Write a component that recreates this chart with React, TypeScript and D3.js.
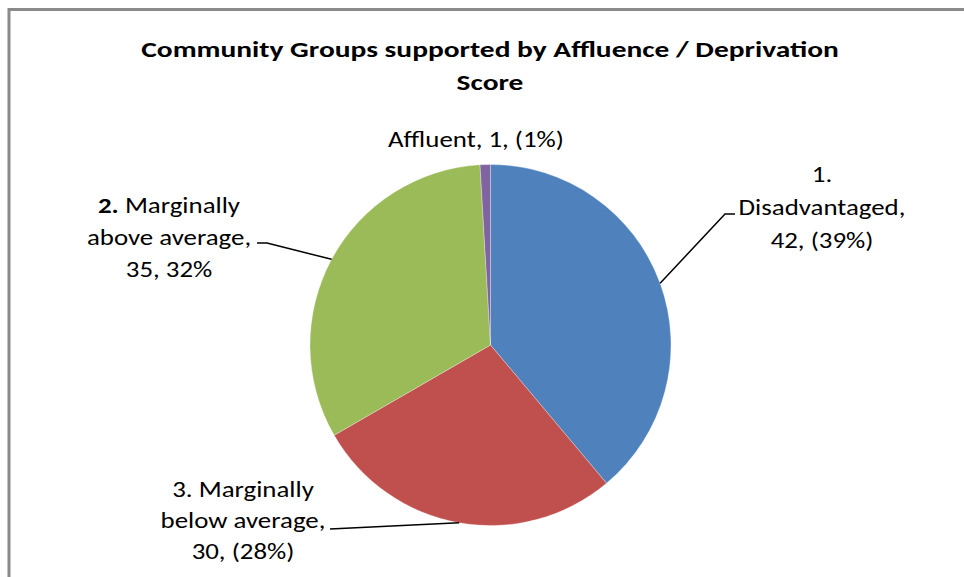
import React from "react";
import * as d3 from "d3";

const categories = ["1. Disadvantaged", "3. Marginally below average", "2. Marginally above average", "Affluent"];
const values = [42, 30, 35, 1];
const colors = ["#4F81BD", "#C0504D", "#9BBB59", "#8064A2"];
const labelLines: { text: string; bold?: string }[][] = [
  [{ text: "1." }, { text: "Disadvantaged," }, { text: "42, (39%)" }],
  [{ text: "3. Marginally" }, { text: "below average," }, { text: "30, (28%)" }],
  [{ text: " Marginally", bold: "2." }, { text: "above average," }, { text: "35, 32%" }],
  [{ text: "Affluent, 1, (1%)" }],
];
const titleLines = ["Community Groups supported by Affluence / Deprivation", "Score"];

const W = 964, H = 577;
const cx = 490.5, cy = 345, R = 180.5;
const FONT = "Carlito, Lato, 'Open Sans', sans-serif";
const LABEL_SIZE = 21.5, LABEL_SX = 1.25;
const TITLE_SIZE = 23, TITLE_SX = 1.28;

// label layout: anchor (center x, first baseline), line gap, leader elbow
const labelLayout = [
  { x: 822, y: 182, gap: 33, leader: [[735, 214], [725, 214]] },
  { x: 243, y: 497, gap: 31, leader: [[330, 529]] },
  { x: 169, y: 213, gap: 32, leader: [[257, 243], [267, 243]] },
  { x: 476, y: 147, gap: 0, leader: null as null | number[][] },
];

export default function App() {
  const pie = d3.pie<number>().sort(null).value((d) => d);
  const arcs = pie(values);
  const arc = d3.arc<d3.PieArcDatum<number>>().innerRadius(0).outerRadius(R);
  const lineGen = d3.line();

  return (
    <svg width={W} height={H} style={{ position: "absolute", left: 0, top: 0, background: "#fff" }} fontFamily={FONT}>
      <rect x={0} y={0} width={W} height={H} fill="#fff" />
      <rect x={9} y={9.5} width={W + 50} height={H + 50} fill="none" stroke="#8a8a8a" strokeWidth={3} />
      {titleLines.map((t, i) => (
        <text key={i} transform={`translate(490,${57 + i * 33}) scale(${TITLE_SX},1)`} textAnchor="middle" fontWeight="bold" fontSize={TITLE_SIZE} fill="#000">
          {t}
        </text>
      ))}
      <g transform={`translate(${cx},${cy})`}>
        {arcs.map((a, i) => (
          <path key={i} d={arc(a) || ""} fill={colors[i]} stroke="#fff" strokeWidth={0.3} />
        ))}
      </g>
      {arcs.map((a, i) => {
        const L = labelLayout[i];
        if (!L.leader) return null;
        const mid = (a.startAngle + a.endAngle) / 2;
        const px = cx + R * Math.sin(mid);
        const py = cy - R * Math.cos(mid);
        const pts = [...L.leader, [px, py]] as [number, number][];
        return <path key={"l" + i} d={lineGen(pts) || ""} fill="none" stroke="#000" strokeWidth={1.5} />;
      })}
      {labelLines.map((lines, i) => {
        const L = labelLayout[i];
        return (
          <g key={"t" + i}>
            {lines.map((ln, j) => (
              <text key={j} transform={`translate(${L.x},${L.y + j * L.gap}) scale(${LABEL_SX},1)`} textAnchor="middle" fontSize={LABEL_SIZE} fill="#000">
                {ln.bold ? <tspan fontWeight="bold">{ln.bold}</tspan> : null}
                {ln.text}
              </text>
            ))}
          </g>
        );
      })}
    </svg>
  );
}
